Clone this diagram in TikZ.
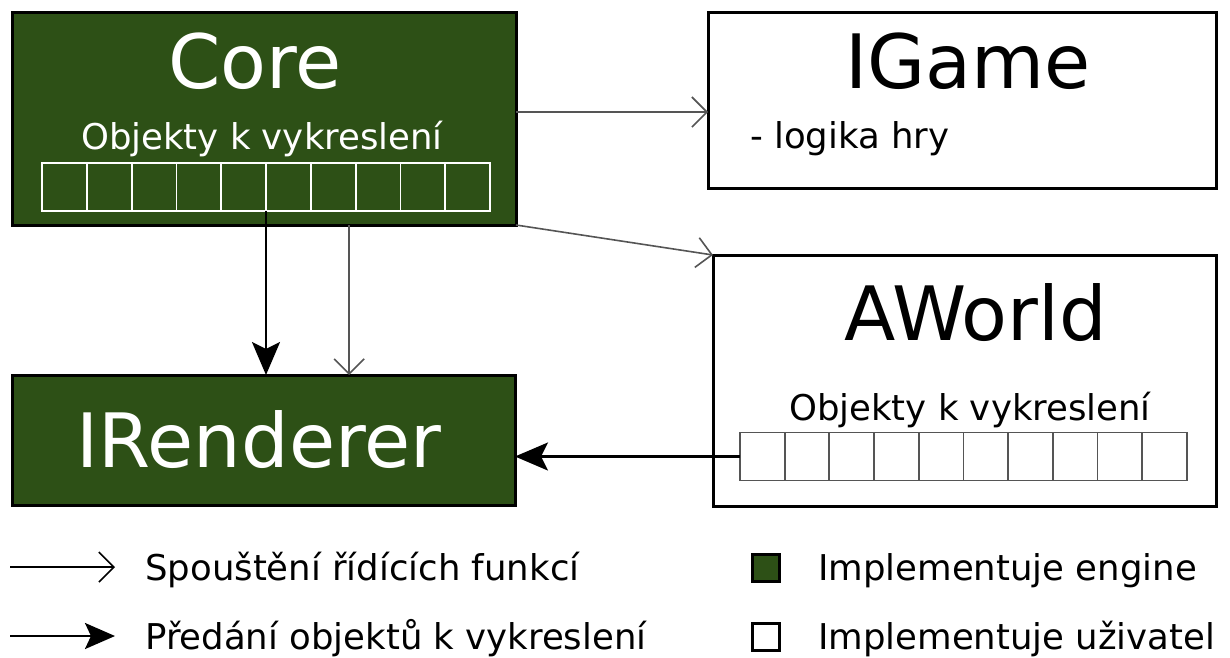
\documentclass[tikz,border=0pt]{standalone}
\usepackage{fontspec}
\setmainfont{DejaVu Sans}
\usetikzlibrary{arrows.meta,calc}
\definecolor{enginegreen}{RGB}{45,80,22}
\definecolor{linegray}{RGB}{85,85,85}
\tikzset{
  box/.style={draw=black,line width=3pt,inner sep=0pt,outer sep=0pt},
  enginebox/.style={box,fill=enginegreen},
  userbox/.style={box,fill=white},
  cell/.style={draw,line width=1.8pt,inner sep=0pt,outer sep=0pt,minimum width=44.8pt,minimum height=48pt},
  title/.style={font=\fontsize{75}{80}\selectfont,anchor=base,inner sep=0pt},
  sub/.style={font=\fontsize{35.5}{40}\selectfont,anchor=base,inner sep=0pt},
  legtext/.style={font=\fontsize{35.5}{40}\selectfont,anchor=base west,inner sep=0pt},
  call/.style={draw=linegray,line width=1.6pt,-{Straight Barb[length=15pt,width=30pt,line width=1.6pt]}},
  pass/.style={draw=black,line width=2.6pt,-{Stealth[length=33pt,width=28pt,inset=7pt]}},
}
\begin{document}
\begin{tikzpicture}[x=1pt,y=-1pt]
\useasboundingbox[fill=white] (0,0) rectangle (1230,657);

% main components
\node[enginebox,minimum width=504pt,minimum height=213pt] (core) at (264,118.5) {};
\node[userbox,minimum width=508pt,minimum height=176pt] (igame) at (962,100) {};
\node[userbox,minimum width=503pt,minimum height=251pt] (aworld) at (964.5,380.5) {};
\node[enginebox,minimum width=503pt,minimum height=130pt] (irend) at (263.5,440) {};

% titles and captions
\node[title,text=white] (coret) at (255,88) {Core};
\node[sub,text=white] (corelist) at (262,149) {Objekty k vykreslení};
\node[title] (igamet) at (968,88) {IGame};
\node[sub,anchor=base west] (igamenote) at (750,148) {- logika hry};
\node[title] (aworldt) at (976,340) {AWorld};
\node[sub] (aworldlist) at (970,420) {Objekty k vykreslení};
\node[title,text=white] (irendt) at (259,467) {IRenderer};

% object lists
\foreach \i in {1,...,10}{
  \node[cell,draw=white] (ccell\i) at ({42+44.8*(\i-0.5)},187) {};
  \node[cell,draw=linegray,fill=white] (acell\i) at ({740+44.7*(\i-0.5)},456.5) {};
}

% connectors
\coordinate (coreright) at ($(core.east)+(0,-6.5)$);
\draw[call] (coreright) -- (coreright -| igame.west);
\draw[call] (core.south east) -- (aworld.north west);
\coordinate (coreout) at ($(core.south west)!0.669!(core.south east)$);
\draw[call] (coreout) -- (coreout |- irend.north);
\draw[pass] (ccell5.south east) -- (ccell5.south east |- irend.north);
\draw[pass] (acell1.west) -- (acell1.west -| irend.east);

% legend
\coordinate (lcA) at (10,567);
\coordinate (lcB) at (115,567);
\coordinate (lpA) at (10,636);
\coordinate (lpB) at (115,636);
\draw[call,draw=black,line width=1.3pt] (lcA) -- (lcB);
\draw[pass,-{Stealth[length=30pt,width=26pt,inset=6pt]}] (lpA) -- (lpB);
\node[legtext] (lcall) at (145,580) {Spouštění řídících funkcí};
\node[legtext] (lpass) at (145,649) {Předání objektů k vykreslení};
\node[box,fill=enginegreen,minimum size=27pt] (lgreen) at (765.5,567.5) {};
\node[box,fill=white,minimum size=27pt] (lwhite) at (765.5,636.5) {};
\node[legtext] (leng) at (818,580) {Implementuje engine};
\node[legtext] (luser) at (818,649) {Implementuje uživatel};
\end{tikzpicture}
\end{document}
